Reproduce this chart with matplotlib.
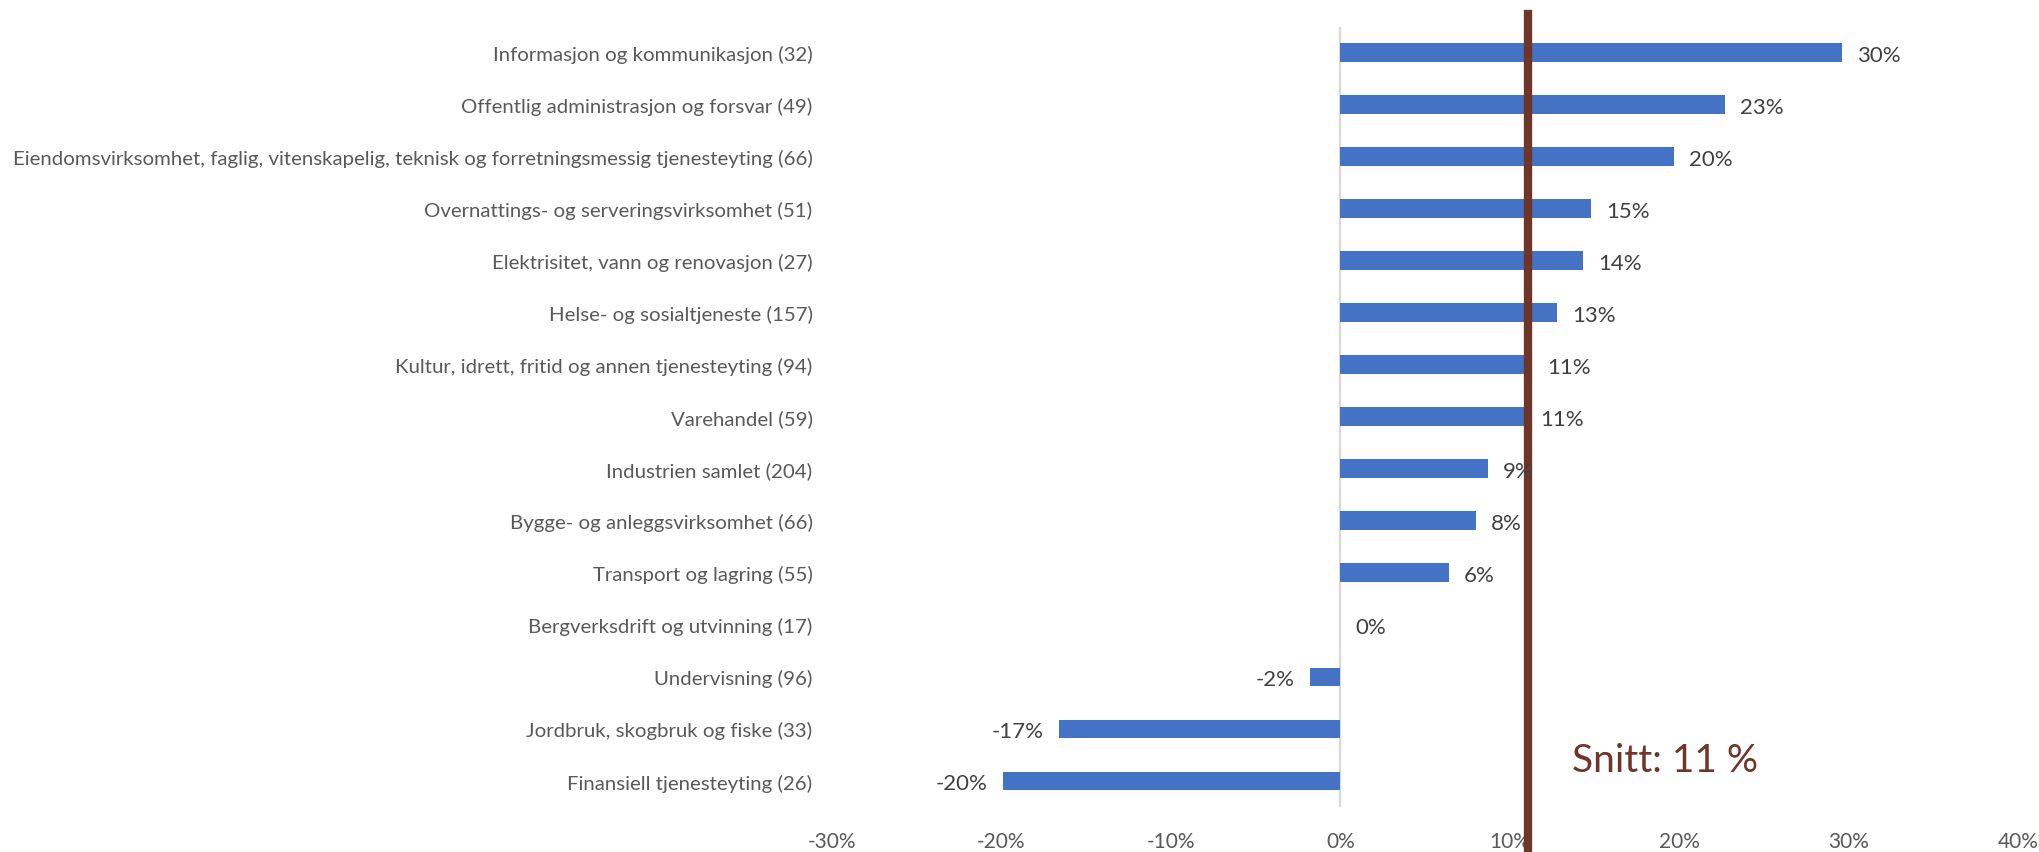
import matplotlib
matplotlib.use("Agg")
import matplotlib.pyplot as plt
import numpy as np

categories = [
    "Informasjon og kommunikasjon (32)",
    "Offentlig administrasjon og forsvar (49)",
    "Eiendomsvirksomhet, faglig, vitenskapelig, teknisk og forretningsmessig tjenesteyting (66)",
    "Overnattings- og serveringsvirksomhet (51)",
    "Elektrisitet, vann og renovasjon (27)",
    "Helse- og sosialtjeneste (157)",
    "Kultur, idrett, fritid og annen tjenesteyting (94)",
    "Varehandel (59)",
    "Industrien samlet (204)",
    "Bygge- og anleggsvirksomhet (66)",
    "Transport og lagring (55)",
    "Bergverksdrift og utvinning (17)",
    "Undervisning (96)",
    "Jordbruk, skogbruk og fiske (33)",
    "Finansiell tjenesteyting (26)",
]
values = [29.6, 22.7, 19.7, 14.8, 14.3, 12.8, 11.3, 10.9, 8.7, 8.0, 6.4, 0.0, -1.8, -16.6, -19.9]
average = 11.1
avg_label = "Snitt: 11 %"
xticks = [-30, -20, -10, 0, 10, 20, 30, 40]
xticklabels = ["-30%", "-20%", "-10%", "0%", "10%", "20%", "30%", "40%"]

FONT = "Lato"
plt.rcParams["font.family"] = [FONT, "DejaVu Sans"]

fig = plt.figure(figsize=(20.4, 8.53), dpi=100)
ax = fig.add_axes([832 / 2040, 1 - 808 / 853, (2018 - 832) / 2040, (808 - 27.5) / 853])

y = np.arange(len(categories))
ax.barh(y, values, height=0.36, color="#4472C4", linewidth=0, zorder=2)

ax.set_xlim(-30, 40)
ax.set_ylim(len(categories) - 0.5, -0.5)
ax.set_xticks(xticks)
ax.set_xticklabels(xticklabels, fontsize=15, color="#595959")
ax.set_yticks(y)
ax.set_yticklabels(categories, fontsize=14.7, color="#595959")
ax.tick_params(axis="x", length=0, pad=17)
ax.tick_params(axis="y", length=0, pad=14)
for s in ax.spines.values():
    s.set_visible(False)

ax.axvline(0, color="#D9D9D9", lw=1.6, zorder=1)

for yi, v in zip(y, values):
    lab = f"{round(v):.0f}%"
    if v >= 0:
        ax.annotate(lab, (v, yi), xytext=(11, -1.5), textcoords="offset points",
                    ha="left", va="center", fontsize=16, color="#404040", zorder=4)
    else:
        ax.annotate(lab, (v, yi), xytext=(-11, -1.5), textcoords="offset points",
                    ha="right", va="center", fontsize=16, color="#404040", zorder=4)

ax.axvline(average, ymin=-0.06, ymax=1.016, color="#6E3629", lw=6, clip_on=False, zorder=3)
ax.text(13.7, 13.6, avg_label, fontsize=28, color="#6E3629", ha="left", va="center")

fig.savefig("out.png", dpi=100)
